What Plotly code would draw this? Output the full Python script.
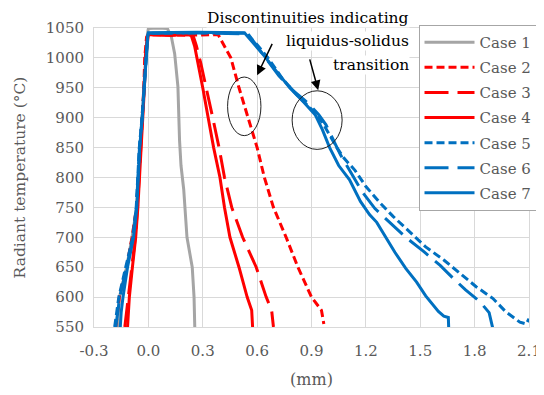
import plotly.graph_objects as go

# ---- data ----
case1_x = [-0.17, -0.16, -0.12, -0.09, -0.065, -0.055, -0.045, -0.035, -0.025, -0.015, -0.005, 0.0, 0.05, 0.105, 0.127, 0.145, 0.163, 0.172, 0.18, 0.195, 0.213, 0.242, 0.252, 0.256]
case1_y = [550, 600, 650, 700, 750, 800, 850, 900, 950, 1000, 1040, 1049, 1050, 1049, 1035, 1007, 952, 862, 820, 780, 700, 650, 600, 550]

case2_x = [-0.18, -0.16, -0.12, -0.09, -0.065, -0.055, -0.045, -0.035, -0.025, -0.02, -0.01, 0.0, 0.2, 0.385, 0.42, 0.455, 0.50, 0.55, 0.60, 0.64, 0.69, 0.76, 0.825, 0.90, 0.955, 0.968]
case2_y = [550, 600, 650, 700, 750, 800, 850, 900, 950, 1000, 1035, 1039, 1038, 1039, 1020, 1000, 950, 900, 850, 800, 750, 700, 650, 600, 578, 555]

case3_x = [-0.13, -0.11, -0.09, -0.072, -0.06, -0.05, -0.042, -0.032, -0.024, -0.017, -0.006, 0.0, 0.12, 0.245, 0.265, 0.29, 0.32, 0.355, 0.39, 0.42, 0.46, 0.52, 0.595, 0.65, 0.68, 0.69]
case3_y = [550, 600, 650, 700, 750, 800, 850, 900, 950, 1000, 1035, 1039, 1038, 1039, 1020, 990, 950, 900, 850, 800, 750, 700, 650, 600, 578, 550]

case4_x = [-0.115, -0.105, -0.088, -0.07, -0.058, -0.048, -0.04, -0.03, -0.022, -0.015, -0.005, 0.0, 0.12, 0.235, 0.255, 0.275, 0.30, 0.33, 0.36, 0.395, 0.42, 0.45, 0.50, 0.545, 0.57, 0.575]
case4_y = [550, 600, 650, 700, 750, 800, 850, 900, 950, 1000, 1035, 1039, 1038, 1039, 1020, 990, 950, 900, 850, 800, 750, 700, 650, 600, 578, 550]

case5_x = [-0.186, -0.175, -0.163, -0.125, -0.086, -0.067, -0.058, -0.05, -0.035, -0.025, -0.015, -0.005, 0.0, 0.27, 0.54, 0.60, 0.66, 0.74, 0.82, 0.88, 0.92, 0.96, 1.00, 1.04, 1.08, 1.14, 1.20, 1.28, 1.35, 1.44, 1.53, 1.63, 1.72, 1.81, 1.90, 1.97, 2.05, 2.085, 2.10]
case5_y = [550, 575, 600, 650, 700, 750, 800, 850, 900, 950, 1000, 1035, 1041, 1042, 1041, 1022, 1000, 965, 938, 920, 908, 892, 870, 850, 832, 812, 785, 757, 735, 710, 684, 662, 640, 617, 598, 576, 558, 555, 564]

case6_x = [-0.18, -0.17, -0.158, -0.12, -0.084, -0.066, -0.057, -0.049, -0.034, -0.024, -0.014, -0.004, 0.0, 0.28, 0.55, 0.60, 0.66, 0.72, 0.80, 0.86, 0.90, 0.94, 0.98, 1.02, 1.06, 1.11, 1.18, 1.25, 1.33, 1.42, 1.52, 1.61, 1.68, 1.75, 1.83, 1.88, 1.90]
case6_y = [550, 575, 600, 650, 700, 750, 800, 850, 900, 950, 1000, 1035, 1041, 1042, 1040, 1020, 995, 970, 945, 930, 918, 905, 888, 862, 838, 812, 776, 748, 726, 700, 676, 653, 632, 612, 592, 574, 548]

case7_x = [-0.155, -0.15, -0.14, -0.115, -0.082, -0.064, -0.056, -0.048, -0.034, -0.024, -0.014, -0.004, 0.0, 0.27, 0.53, 0.58, 0.64, 0.70, 0.78, 0.86, 0.92, 0.96, 1.00, 1.05, 1.11, 1.17, 1.22, 1.26, 1.30, 1.36, 1.42, 1.48, 1.53, 1.57, 1.60, 1.63, 1.655, 1.657]
case7_y = [550, 575, 600, 650, 700, 750, 800, 850, 900, 950, 1000, 1035, 1042, 1043, 1042, 1025, 1003, 980, 950, 925, 905, 880, 850, 820, 796, 760, 738, 725, 705, 675, 648, 625, 602, 588, 576, 568, 566, 548]

case_names = ["Case 1", "Case 2", "Case 3", "Case 4", "Case 5", "Case 6", "Case 7"]
x_ticks = [-0.3, 0.0, 0.3, 0.6, 0.9, 1.2, 1.5, 1.8, 2.1]
y_ticks = [550, 600, 650, 700, 750, 800, 850, 900, 950, 1000, 1050]

note_lines = ["Discontinuities indicating", "liquidus-solidus", "transition"]

# ---- styling ----
GRAY = "#a5a5a5"
RED = "#ff0000"
BLUE = "#0070c0"
SHORT = "8px,4px"
LONG = "24px,9px"
TXT = "#595959"
FONT = "DejaVu Serif"

series = [
    (case1_x, case1_y, GRAY, "solid"),
    (case2_x, case2_y, RED, SHORT),
    (case3_x, case3_y, RED, LONG),
    (case4_x, case4_y, RED, "solid"),
    (case5_x, case5_y, BLUE, SHORT),
    (case6_x, case6_y, BLUE, LONG),
    (case7_x, case7_y, BLUE, "solid"),
]

fig = go.Figure()
for name, (xs, ys, col, dash) in zip(case_names, series):
    fig.add_trace(go.Scatter(x=xs, y=ys, mode="lines", name=name, legendgroup=name,
                             line=dict(color=col, width=3, dash=dash)))

# ellipses
fig.add_shape(type="circle", xref="x", yref="y", x0=0.437, x1=0.621, y0=870, y1=968,
              line=dict(color="#202020", width=1))
fig.add_shape(type="circle", xref="x", yref="y", x0=0.793, x1=1.069, y0=847, y1=945,
              line=dict(color="#202020", width=1))

# arrows
fig.add_annotation(x=0.60, y=971, ax=0.687, ay=1026, xref="x", yref="y", axref="x", ayref="y",
                   showarrow=True, arrowhead=2, arrowsize=1.3, arrowwidth=1.5, arrowcolor="black", text="")
fig.add_annotation(x=0.937, y=946, ax=0.888, ay=1000, xref="x", yref="y", axref="x", ayref="y",
                   showarrow=True, arrowhead=2, arrowsize=1.3, arrowwidth=1.5, arrowcolor="black", text="")

# page is offset by 8px; plot spans 20..319 px in figure coords
note_py = [10, 33, 57]
for t, py in zip(note_lines, note_py):
    fig.add_annotation(x=1.445, y=(319 - py) / 299.0, xref="x", yref="paper", text=t, showarrow=False,
                       xanchor="right", yanchor="middle", bgcolor="white", borderpad=0,
                       font=dict(family=FONT, size=15.5, color="black"))

fig.update_layout(
    width=536, height=387,
    margin=dict(l=86, r=15, t=20, b=68, autoexpand=False),
    paper_bgcolor="white", plot_bgcolor="white",
    font=dict(family=FONT, size=15, color=TXT),
    showlegend=True,
    legend=dict(x=0.746, y=1.01, xanchor="left", yanchor="top",
                bgcolor="white", bordercolor="#a6a6a6", borderwidth=1,
                font=dict(family=FONT, size=15, color=TXT),
                itemwidth=50, tracegroupgap=2.6),
)
fig.update_xaxes(range=[-0.3, 2.1], tickvals=x_ticks, ticktext=[f"{v:.1f}" for v in x_ticks],
                 showgrid=True, gridcolor="#d9d9d9", gridwidth=1, zeroline=False,
                 showline=True, linecolor="#d9d9d9", mirror=True, ticks="",
                 ticklabelstandoff=10,
                 title=dict(text="(mm)", font=dict(family=FONT, size=16, color=TXT), standoff=14),
                 tickfont=dict(family=FONT, size=15, color=TXT))
fig.update_yaxes(range=[550, 1050], tickvals=y_ticks,
                 showgrid=True, gridcolor="#d9d9d9", gridwidth=1, zeroline=False,
                 showline=True, linecolor="#d9d9d9", mirror=True, ticks="",
                 ticklabelstandoff=6,
                 title=dict(text="Radiant temperature (°C)", font=dict(family=FONT, size=15.5, color=TXT), standoff=16),
                 tickfont=dict(family=FONT, size=15, color=TXT))

fig.write_html("out.html")
